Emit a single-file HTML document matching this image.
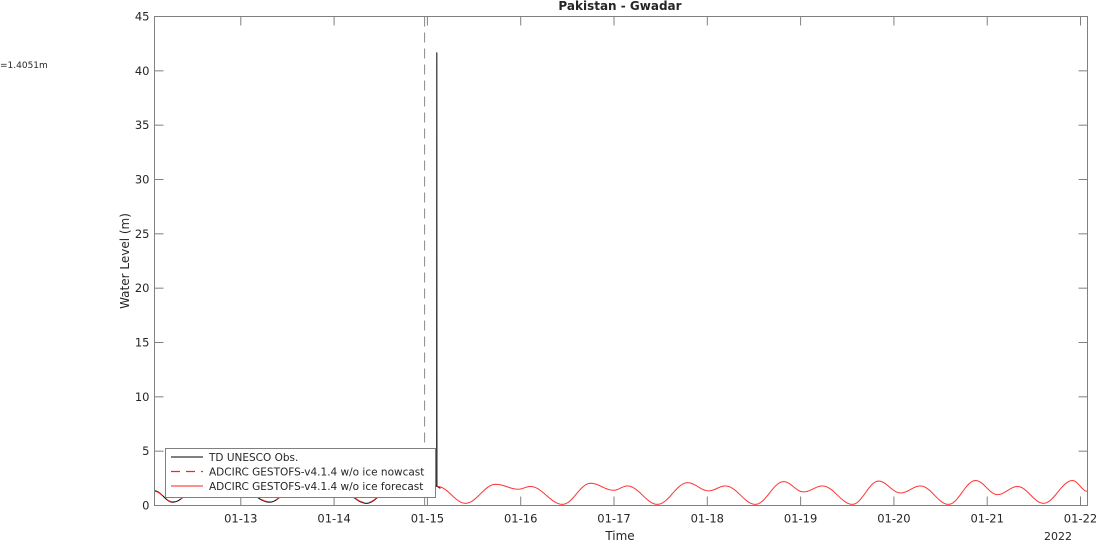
<!DOCTYPE html>
<html><head><meta charset="utf-8"><style>
body{margin:0;background:#fff;width:1103px;height:541px;overflow:hidden;font-family:"Liberation Sans","DejaVu Sans",sans-serif}
svg text{font-family:"DejaVu Sans","Liberation Sans",sans-serif;fill:#262626}
</style></head><body>
<svg width="1103" height="541" id="chart">
<text x="0" y="68" font-size="9">=1.4051m</text>
<text x="620" y="10" font-size="12" font-weight="bold" text-anchor="middle">Pakistan - Gwadar</text>
<text x="0" y="0" font-size="12" text-anchor="middle" transform="translate(129,261) rotate(-90)">Water Level (m)</text>
<text x="620" y="540" font-size="12" text-anchor="middle">Time</text>
<text x="1058" y="540" font-size="11" text-anchor="middle">2022</text>
<g id="ticks"></g>
<g id="series"></g>
<rect x="154.5" y="16.5" width="933" height="489" fill="none" stroke="#808080"/>
<g>
<rect x="165.5" y="448.5" width="270" height="49" fill="#fff" stroke="#808080"/>
<line x1="171" y1="457" x2="203" y2="457" stroke="#000"/>
<text x="209" y="461" font-size="10.5">TD UNESCO Obs.</text>
<line x1="171" y1="471.5" x2="203" y2="471.5" stroke="#f22" stroke-width="1.2" stroke-dasharray="9,6"/>
<text x="209" y="475.5" font-size="10.5">ADCIRC GESTOFS-v4.1.4 w/o ice nowcast</text>
<line x1="171" y1="486" x2="203" y2="486" stroke="#f22"/>
<text x="209" y="490" font-size="10.5">ADCIRC GESTOFS-v4.1.4 w/o ice forecast</text>
</g>
</svg>
<script>
const yTicks=[0,5,10,15,20,25,30,35,40,45];
const xTickDays=[13,14,15,16,17,18,19,20,21,22];
const xTickLabels=["01-13","01-14","01-15","01-16","01-17","01-18","01-19","01-20","01-21","01-22"];
const nowcastT=[12.075,12.268,12.59,12.836,12.965,13.308,13.618,13.876,14.004,14.347,14.658,14.905,15.097];
const nowcastV=[1.3,0.35,1.9,1.5,1.75,0.35,1.95,1.5,1.8,0.25,1.95,1.55,1.75];
const obsT=[12.075,12.268,12.59,12.836,12.965,13.308,13.618,13.876,14.004,14.347,14.658,14.905,15.1,15.101,15.102,15.14];
const obsV=[1.35,0.3,1.95,1.5,1.75,0.3,1.95,1.5,1.8,0.2,1.95,1.55,1.8,41.7,1.75,1.6];
const forecastT=[15.108,15.408,15.73,15.976,16.105,16.448,16.748,16.995,17.145,17.466,17.788,18.013,18.195,18.517,18.817,19.031,19.235,19.556,19.835,20.071,20.285,20.585,20.875,21.11,21.325,21.603,21.914,22.075];
const forecastV=[1.75,0.2,1.95,1.5,1.75,0.1,2.05,1.4,1.8,0.1,2.1,1.35,1.8,0.1,2.2,1.25,1.8,0.1,2.25,1.15,1.8,0.1,2.3,1.0,1.75,0.2,2.3,1.3];
const nowcastDivider=14.97;
const L=154.5,R=1087.5,T=16.5,B=505.5,d0=12.075,d1=22.075;
const X=d=>L+(d-d0)/(d1-d0)*(R-L);
const Y=v=>B-v/45*(B-T);
const NS='http://www.w3.org/2000/svg';
const tg=document.getElementById('ticks'),sg=document.getElementById('series');
function mk(tag,attrs,parent){const e=document.createElementNS(NS,tag);for(const k in attrs)e.setAttribute(k,attrs[k]);parent.appendChild(e);return e;}
yTicks.forEach(v=>{const y=Y(v);
 const a=mk('line',{x1:L,x2:L+9,y1:y,y2:y,stroke:'#808080'},tg);
 
 
 const b=mk('line',{x1:R-9,x2:R,y1:y,y2:y,stroke:'#808080'},tg);
 
 
 const t=mk('text',{x:L-5,y:y+4,'font-size':11.5,'text-anchor':'end'},tg);t.textContent=v;
 
 
});
xTickDays.forEach((d,i)=>{const x=X(d);
 const a=mk('line',{x1:x,x2:x,y1:B-9,y2:B,stroke:'#808080'},tg);
 
 
 const b=mk('line',{x1:x,x2:x,y1:T,y2:T+9,stroke:'#808080'},tg);
 
 
 const t=mk('text',{x:x,y:B+17,'font-size':11.5,'text-anchor':'middle'},tg);t.textContent=xTickLabels[i];
 
 
});
const dv=mk('line',{x1:X(nowcastDivider),x2:X(nowcastDivider),y1:T,y2:B,stroke:'#888','stroke-dasharray':'10,6'},sg);


function path(ts,vs,smooth){let s='M'+X(ts[0]).toFixed(2)+','+Y(vs[0]).toFixed(2);
 for(let i=1;i<ts.length;i++){
  if(smooth&&Math.abs(vs[i]-vs[i-1])<10){const n=12;for(let k=1;k<=n;k++){const f=k/n,c=(1-Math.cos(Math.PI*f))/2;
   s+='L'+X(ts[i-1]+(ts[i]-ts[i-1])*f).toFixed(2)+','+Y(vs[i-1]+(vs[i]-vs[i-1])*c).toFixed(2);}}
  else s+='L'+X(ts[i]).toFixed(2)+','+Y(vs[i]).toFixed(2);}
 return s;}
const po=mk('path',{d:path(obsT,obsV,true),fill:'none',stroke:'#000','stroke-width':1},sg);


const pn=mk('path',{d:path(nowcastT,nowcastV,true),fill:'none',stroke:'#f22','stroke-width':1,'stroke-dasharray':'9,6'},sg);


const pf=mk('path',{d:path(forecastT,forecastV,true),fill:'none',stroke:'#f33','stroke-width':1},sg);


</script>
</body></html>
